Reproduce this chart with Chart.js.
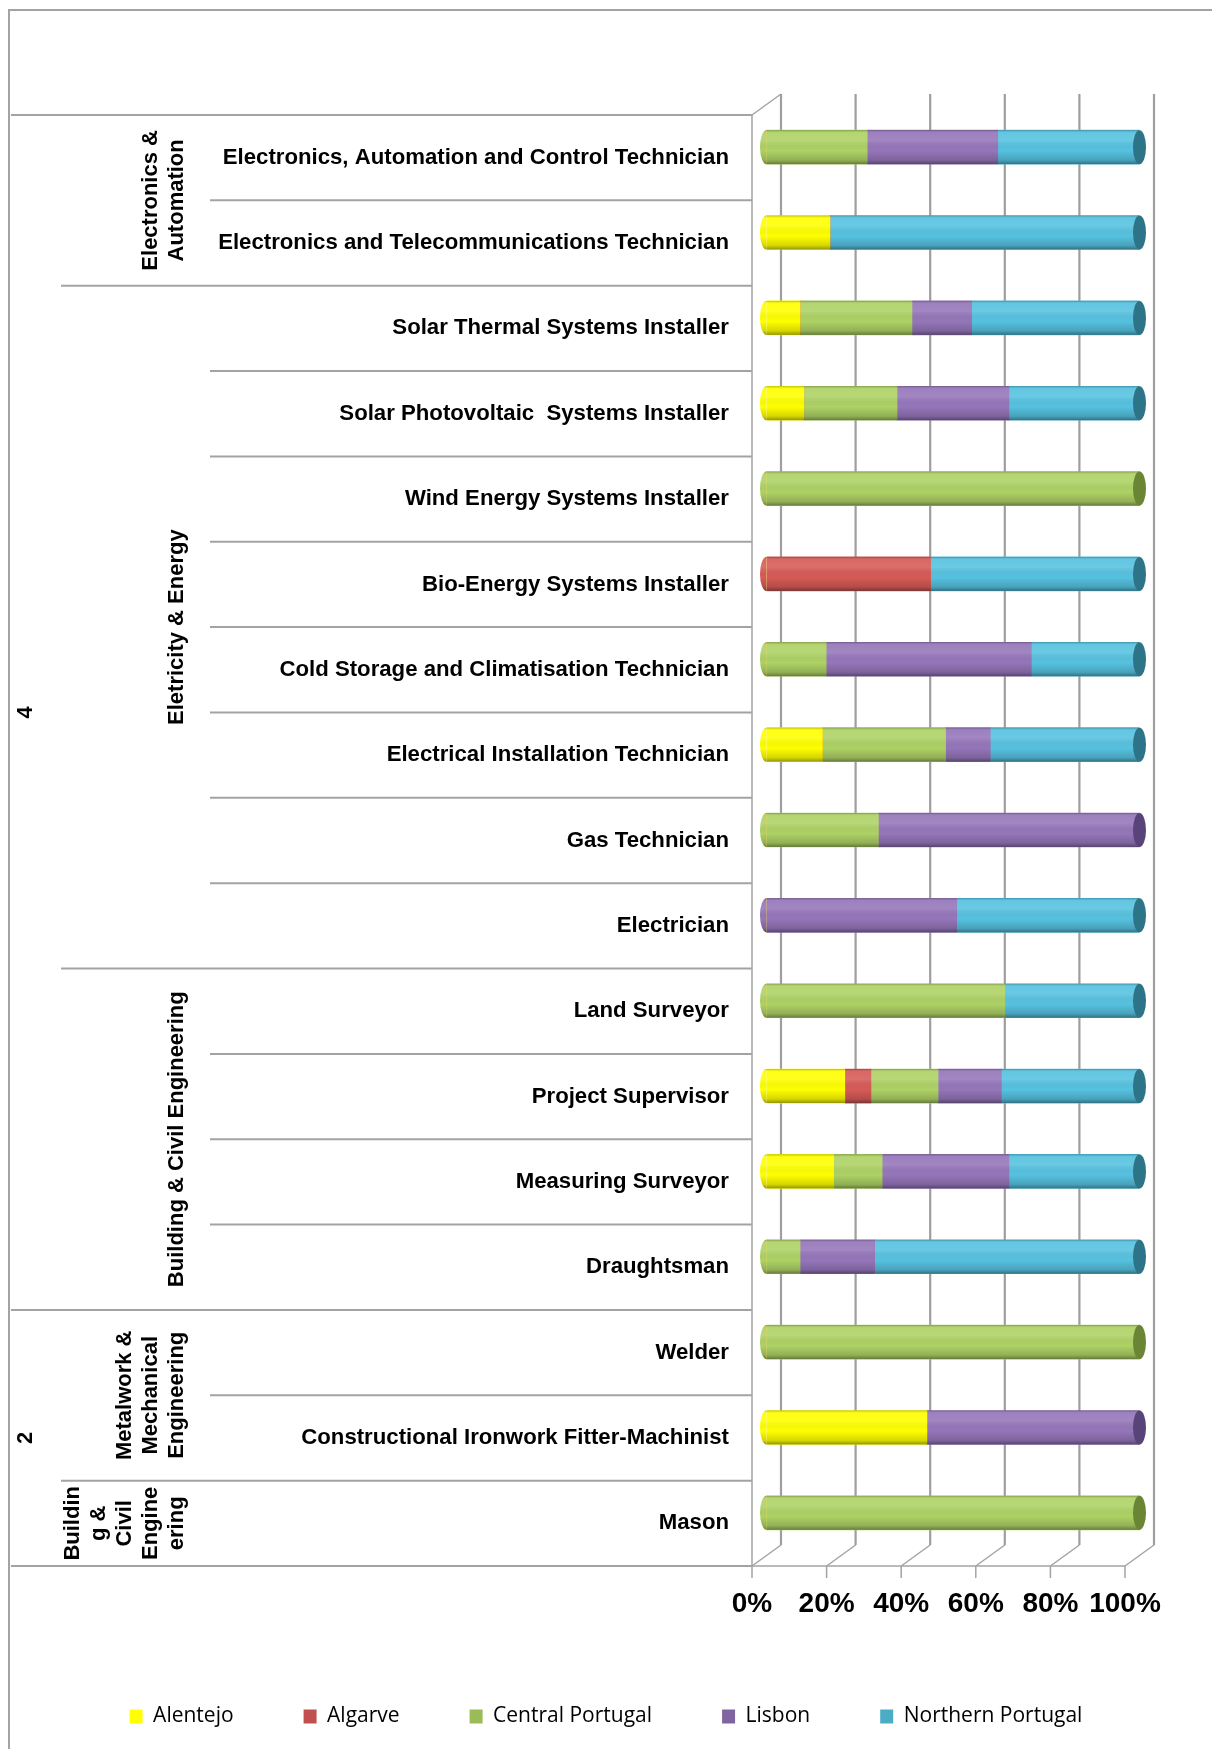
<!DOCTYPE html>
<html>
<head>
<meta charset="utf-8">
<script src="https://cdn.jsdelivr.net/npm/chart.js@4.4.1/dist/chart.umd.min.js"></script>
<style>
  html, body { margin: 0; padding: 0; background: #fff; }
  canvas { display: block; }
</style>
</head>
<body>
<canvas id="regionChart" width="1212" height="1749"></canvas>
<script>
// categories, top to bottom
const occupations = [
  "Electronics, Automation and Control Technician",
  "Electronics and Telecommunications Technician",
  "Solar Thermal Systems Installer",
  "Solar Photovoltaic  Systems Installer",
  "Wind Energy Systems Installer",
  "Bio-Energy Systems Installer",
  "Cold Storage and Climatisation Technician",
  "Electrical Installation Technician",
  "Gas Technician",
  "Electrician",
  "Land Surveyor",
  "Project Supervisor",
  "Measuring Surveyor",
  "Draughtsman",
  "Welder",
  "Constructional Ironwork Fitter-Machinist",
  "Mason"
];

const regions = ["Alentejo", "Algarve", "Central Portugal", "Lisbon", "Northern Portugal"];

// share of each region (%)
const alentejo = [0, 17, 9, 10, 0, 0, 0, 15, 0, 0, 0, 21, 18, 0, 0, 43, 0];
const algarve  = [0, 0, 0, 0, 0, 44, 0, 0, 0, 0, 0, 7, 0, 0, 0, 0, 0];
const central  = [27, 0, 30, 25, 100, 0, 16, 33, 30, 0, 64, 18, 13, 9, 100, 0, 100];
const lisbon   = [35, 0, 16, 30, 0, 0, 55, 12, 70, 51, 0, 17, 34, 20, 0, 57, 0];
const northern = [38, 83, 45, 35, 0, 56, 29, 40, 0, 49, 36, 37, 35, 71, 0, 0, 0];

const xTicks = [0, 20, 40, 60, 80, 100];

// second and first level of the category axis
const areaGroups = [
  { lines: ["Electronics &", "Automation"], from: 0, to: 1 },
  { lines: ["Eletricity & Energy"], from: 2, to: 9 },
  { lines: ["Building & Civil Engineering"], from: 10, to: 13 },
  { lines: ["Metalwork &", "Mechanical", "Engineering"], from: 14, to: 15 },
  { lines: ["Buildin", "g &", "Civil", "Engine", "ering"], from: 16, to: 16 }
];
const levelGroups = [
  { lines: ["4"], from: 0, to: 13 },
  { lines: ["2"], from: 14, to: 16 }
];

const series = [alentejo, algarve, central, lisbon, northern];
const barColors = ["#ffff00", "#d65b57", "#aed265", "#9576ba", "#56c2e0"];
const legendColors = ["#ffff00", "#c0504d", "#9bbb59", "#8064a2", "#4bacc6"];
const capColors = ["#a6a600", "#8c3431", "#6a8534", "#59447a", "#2d7489"];

const DX = 29, DY = -21; // depth of the 3d box
const LINE = "#a3a3a3";

function line(ctx, x1, y1, x2, y2) {
  ctx.beginPath();
  ctx.moveTo(x1, y1);
  ctx.lineTo(x2, y2);
  ctx.stroke();
}

function shade(ctx, yc, h) {
  const g = ctx.createLinearGradient(0, yc - h / 2, 0, yc + h / 2);
  g.addColorStop(0, "rgba(0,0,0,0.28)");
  g.addColorStop(0.08, "rgba(255,255,255,0.08)");
  g.addColorStop(0.3, "rgba(255,255,255,0.12)");
  g.addColorStop(0.6, "rgba(0,0,0,0)");
  g.addColorStop(0.88, "rgba(0,0,0,0.16)");
  g.addColorStop(1, "rgba(0,0,0,0.42)");
  return g;
}

const frame3d = {
  id: "frame3d",
  beforeDatasetsDraw(chart) {
    const { ctx, chartArea: a, scales: { x } } = chart;
    const n = occupations.length;
    const band = (a.bottom - a.top) / n;
    ctx.save();
    ctx.strokeStyle = LINE;
    ctx.lineWidth = 2;
    // outer frame
    ctx.beginPath();
    ctx.moveTo(9, chart.height);
    ctx.lineTo(9, 10);
    ctx.lineTo(chart.width, 10);
    ctx.stroke();

    // category separators
    for (let k = 0; k <= n; k++) {
      const yy = a.top + k * band;
      let startX = 210;
      if (k === 0 || k === n || levelGroups.some(g => g.from === k)) startX = 11;
      else if (areaGroups.some(g => g.from === k)) startX = 61;
      line(ctx, startX, yy, a.left, yy);
    }

    // left wall
    ctx.lineWidth = 1.5;
    line(ctx, a.left, a.top, a.left, a.bottom);
    line(ctx, a.left, a.top, a.left + DX, a.top + DY);
    line(ctx, a.left, a.bottom, x.getPixelForValue(100), a.bottom);

    // back gridlines, floor diagonals, ticks
    xTicks.forEach(v => {
      const px = x.getPixelForValue(v);
      ctx.lineWidth = 2.2;
      ctx.strokeStyle = "#9e9e9e";
      line(ctx, px + DX, a.top + DY, px + DX, a.bottom + DY);
      ctx.lineWidth = 1.5;
      ctx.strokeStyle = LINE;
      line(ctx, px, a.bottom, px + DX, a.bottom + DY);
      line(ctx, px, a.bottom, px, a.bottom + 12);
    });
    ctx.restore();

    // bars sit half way into the box
    ctx.save();
    ctx.translate(DX / 2, DY / 2);
  },
  afterDatasetsDraw(chart) {
    const { ctx } = chart;
    ctx.restore();

    ctx.save();
    ctx.translate(DX / 2, DY / 2);
    chart.data.datasets.forEach((ds, di) => {
      chart.getDatasetMeta(di).data.forEach((bar, i) => {
        if (!ds.data[i]) return;
        const { x: xe, base, y: yc, height: h } = bar.getProps(["x", "base", "y", "height"], true);
        ctx.fillStyle = shade(ctx, yc, h);
        ctx.fillRect(Math.min(base, xe), yc - h / 2, Math.abs(xe - base), h);
      });
    });

    occupations.forEach((_, i) => {
      let first = -1, last = -1;
      series.forEach((s, di) => {
        if (s[i] > 0) {
          if (first < 0) first = di;
          last = di;
        }
      });
      if (first < 0) return;
      const fb = chart.getDatasetMeta(first).data[i].getProps(["base", "y", "height"], true);
      const lb = chart.getDatasetMeta(last).data[i].getProps(["x", "y", "height"], true);
      const rx = 6.5;

      // rounded left end
      ctx.beginPath();
      ctx.ellipse(fb.base, fb.y, rx, fb.height / 2, 0, Math.PI / 2, Math.PI * 1.5);
      ctx.closePath();
      ctx.fillStyle = barColors[first];
      ctx.fill();
      ctx.fillStyle = shade(ctx, fb.y, fb.height);
      ctx.fill();

      // end cap
      ctx.beginPath();
      ctx.ellipse(lb.x, lb.y, rx, lb.height / 2, 0, 0, Math.PI * 2);
      ctx.fillStyle = capColors[last];
      ctx.fill();
    });
    ctx.restore();
  },
  afterDraw(chart) {
    const { ctx, chartArea: a } = chart;
    const band = (a.bottom - a.top) / occupations.length;
    ctx.save();
    ctx.fillStyle = "#000";
    ctx.font = "bold 22px 'Liberation Sans', Arial, sans-serif";
    ctx.textAlign = "center";
    ctx.textBaseline = "middle";
    const drawGroup = (g, lastX) => {
      const cy = a.top + (g.from + g.to + 1) / 2 * band;
      g.lines.forEach((txt, li) => {
        const cx = lastX - (g.lines.length - 1 - li) * 26;
        ctx.save();
        ctx.translate(cx, cy);
        ctx.rotate(-Math.PI / 2);
        ctx.fillText(txt, 0, 0);
        ctx.restore();
      });
    };
    areaGroups.forEach(g => drawGroup(g, 177));
    levelGroups.forEach(g => drawGroup(g, 26));
    ctx.restore();
  }
};

const datasets = regions.map((name, i) => ({
  label: name,
  data: series[i],
  backgroundColor: barColors[i],
  borderWidth: 0,
  barThickness: 34
}));

new Chart(document.getElementById("regionChart"), {
  type: "bar",
  data: { labels: occupations, datasets: datasets },
  plugins: [frame3d],
  options: {
    indexAxis: "y",
    responsive: false,
    animation: false,
    layout: { padding: { top: 115, left: 10, right: 10, bottom: 12 } },
    plugins: {
      tooltip: { enabled: false },
      legend: {
        position: "bottom",
        labels: {
          font: { family: "'Open Sans'", size: 21 },
          color: "#1c1c2a",
          boxWidth: 13,
          boxHeight: 14,
          padding: 70,
          generateLabels: (chart) => chart.data.datasets.map((ds, i) => ({
            text: ds.label,
            fillStyle: legendColors[i],
            strokeStyle: legendColors[i],
            lineWidth: 0,
            hidden: false,
            datasetIndex: i
          }))
        }
      }
    },
    scales: {
      x: {
        type: "linear",
        stacked: true,
        min: 0,
        max: 100,
        grid: { display: false, drawTicks: false },
        border: { display: false },
        ticks: {
          stepSize: 20,
          padding: 21,
          autoSkip: false,
          maxRotation: 0,
          minRotation: 0,
          color: "#000",
          font: { family: "'Liberation Sans', Arial", size: 28, weight: "bold" },
          callback: v => v + "%"
        },
        afterFit: s => { s.height = 70; }
      },
      y: {
        stacked: true,
        grid: { display: false, drawTicks: false },
        border: { display: false },
        ticks: {
          autoSkip: false,
          padding: 23,
          color: "#000",
          font: { family: "'Liberation Sans', Arial", size: 22.2, weight: "bold" }
        },
        afterFit: s => { s.width = 742; }
      },
      yRight: {
        type: "linear",
        position: "right",
        grid: { display: false, drawTicks: false },
        border: { display: false },
        ticks: { display: false },
        afterFit: s => { s.width = 77; }
      }
    }
  }
});
</script>
</body>
</html>
